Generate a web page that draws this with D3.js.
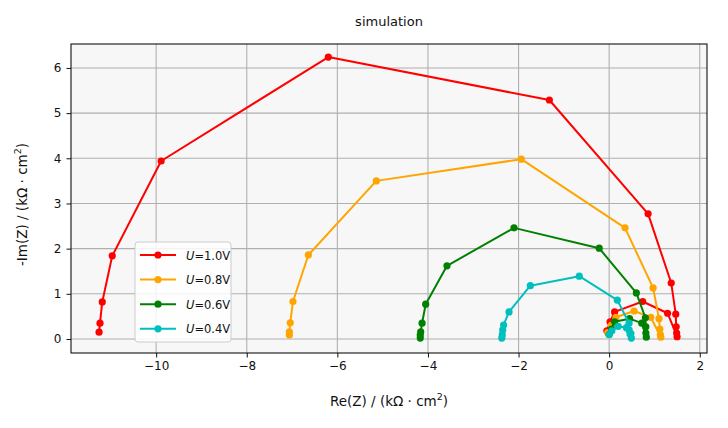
<!DOCTYPE html>
<html>
<head>
<script src="https://cdn.jsdelivr.net/npm/d3@7/dist/d3.min.js"></script>
<style>
  body{margin:0;background:white;font-family:"DejaVu Sans";}
</style>
</head>
<body>
<div id="chart"></div>
<script>
  // each series: low-frequency big arc, then the small loop near the origin
  var re10 = [-11.26,-11.24,-11.19,-10.97,-9.89,-6.20,-1.32,0.86,1.37,1.47,1.48,1.49,1.50,1.29,0.74,0.12,0.02,-0.05]
  var im10 = [0.15,0.35,0.82,1.84,3.94,6.24,5.29,2.77,1.24,0.55,0.27,0.13,0.05,0.57,0.83,0.60,0.38,0.18]
  var re08 = [-7.06,-7.06,-7.04,-6.98,-6.64,-5.14,-1.94,0.35,0.97,1.10,1.12,1.13,1.14,0.92,0.55,0.15,0.05,-0.03]
  var im08 = [0.09,0.16,0.36,0.83,1.86,3.50,3.98,2.46,1.13,0.45,0.22,0.10,0.04,0.48,0.62,0.48,0.30,0.14]
  var re06 = [-4.17,-4.17,-4.16,-4.13,-4.05,-3.58,-2.10,-0.22,0.60,0.80,0.81,0.81,0.82,0.72,0.45,0.12,0.05,0.00]
  var im06 = [0.02,0.09,0.16,0.35,0.77,1.62,2.46,2.01,1.02,0.47,0.27,0.13,0.04,0.35,0.45,0.38,0.22,0.10]
  var re04 = [-2.37,-2.36,-2.35,-2.33,-2.21,-1.74,-0.66,0.18,0.44,0.44,0.46,0.49,0.48,0.38,0.20,0.06,0.00]
  var im04 = [0.02,0.09,0.20,0.31,0.60,1.18,1.39,0.86,0.35,0.20,0.11,0.02,0.12,0.25,0.28,0.18,0.10]

  var labels = ["1.0V","0.8V","0.6V","0.4V"]
  var colors = ["#ff0000","#ffa500","#008000","#00bfbf"]
  var series = [[re10,im10],[re08,im08],[re06,im06],[re04,im04]]

  var xTicks = [-10,-8,-6,-4,-2,0,2]
  var yTicks = [0,1,2,3,4,5,6]

  var W = 728, H = 428
  var mLeft = 71, mRight = 707, mTop = 44, mBottom = 353

  var xScale = d3.scaleLinear().domain([-11.88,2.16]).range([mLeft,mRight])
  var yScale = d3.scaleLinear().domain([-0.31,6.53]).range([mBottom,mTop])

  var svg = d3.select("#chart").append("svg")
    .attr("width",W).attr("height",H)
    .style("font-family","DejaVu Sans")

  svg.append("rect").attr("x",mLeft).attr("y",mTop)
    .attr("width",mRight-mLeft).attr("height",mBottom-mTop)
    .attr("fill","#f7f7f7")

  // grid
  svg.append("g").selectAll("line").data(xTicks).join("line")
    .attr("x1",d=>xScale(d)).attr("x2",d=>xScale(d))
    .attr("y1",mTop).attr("y2",mBottom)
    .attr("stroke","#b0b0b0").attr("stroke-width",1.1)
  svg.append("g").selectAll("line").data(yTicks).join("line")
    .attr("y1",d=>yScale(d)).attr("y2",d=>yScale(d))
    .attr("x1",mLeft).attr("x2",mRight)
    .attr("stroke","#b0b0b0").attr("stroke-width",1.1)

  // axes
  var xAxis = d3.axisBottom(xScale).tickValues(xTicks).tickSize(4.5).tickPadding(4)
    .tickFormat(d=>d<0 ? "\u2212"+Math.abs(d) : d)
  var gx = svg.append("g").attr("transform","translate(0,"+mBottom+")").call(xAxis)
  var yAxis = d3.axisLeft(yScale).tickValues(yTicks).tickSize(4.5).tickPadding(5)
    .tickFormat(d3.format("d"))
  var gy = svg.append("g").attr("transform","translate("+mLeft+",0)").call(yAxis)
  ;[gx,gy].forEach(function(g){
    g.select(".domain").remove()
    g.selectAll("text").attr("font-size",12).attr("font-family","DejaVu Sans").attr("fill","#111")
    g.selectAll("line").attr("stroke","#111").attr("stroke-width",1)
  })

  // lines and markers
  var line = d3.line().x(d=>xScale(d[0])).y(d=>yScale(d[1]))
  var plot = svg.append("g")
  for(var s in series){
    var pts = series[s][0].map((v,i)=>[v,series[s][1][i]])
    plot.append("path").attr("d",line(pts))
      .attr("fill","none").attr("stroke",colors[s]).attr("stroke-width",2)
      .attr("stroke-linejoin","round")
    plot.append("g").selectAll("circle").data(pts).join("circle")
      .attr("cx",d=>xScale(d[0])).attr("cy",d=>yScale(d[1]))
      .attr("r",3.6).attr("fill",colors[s])
  }

  // frame
  svg.append("rect").attr("x",mLeft).attr("y",mTop)
    .attr("width",mRight-mLeft).attr("height",mBottom-mTop)
    .attr("fill","none").attr("stroke","#111").attr("stroke-width",1.1)

  // title and labels
  svg.append("text").text("simulation").attr("x",(mLeft+mRight)/2).attr("y",26)
    .attr("text-anchor","middle").attr("font-size",13).attr("fill","#111")

  var xl = svg.append("text").attr("x",(mLeft+mRight)/2).attr("y",406)
    .attr("text-anchor","middle").attr("font-size",13.5).attr("fill","#111")
  xl.append("tspan").text("Re(Z) / (k\u03A9 \u00B7 cm")
  xl.append("tspan").text("2").attr("font-size",9.5).attr("dy",-6)
  xl.append("tspan").text(")").attr("dy",6)

  var yl = svg.append("text").attr("transform","translate(27,"+((mTop+mBottom)/2+6)+") rotate(-90)")
    .attr("text-anchor","middle").attr("font-size",13.5).attr("fill","#111")
  yl.append("tspan").text("-Im(Z) / (k\u03A9 \u00B7 cm")
  yl.append("tspan").text("2").attr("font-size",9.5).attr("dy",-6)
  yl.append("tspan").text(")").attr("dy",6)

  // legend
  var lg = svg.append("g").attr("transform","translate(135,242)")
  lg.append("rect").attr("width",96).attr("height",100).attr("rx",3)
    .attr("fill","white").attr("fill-opacity",0.85).attr("stroke","#cccccc")
  labels.forEach(function(l,i){
    var yy = 13 + i*24.6
    lg.append("line").attr("x1",5).attr("x2",41).attr("y1",yy).attr("y2",yy)
      .attr("stroke",colors[i]).attr("stroke-width",2)
    lg.append("circle").attr("cx",23).attr("cy",yy).attr("r",3.6).attr("fill",colors[i])
    var t = lg.append("text").attr("x",51).attr("y",yy+4.5).attr("font-size",11.5).attr("fill","#111")
    t.append("tspan").text("U").attr("font-style","italic")
    t.append("tspan").text("="+l)
  })
</script>
</body>
</html>
